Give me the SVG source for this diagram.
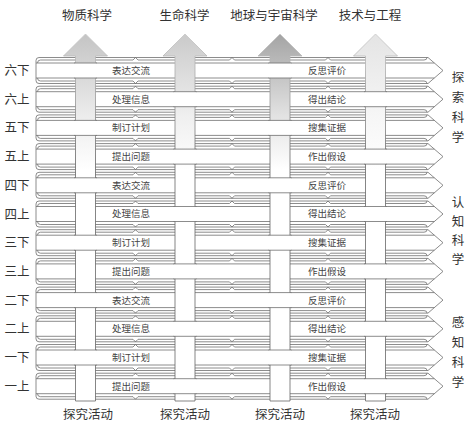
<svg xmlns="http://www.w3.org/2000/svg" xmlns:xlink="http://www.w3.org/1999/xlink" width="469" height="424" viewBox="0 0 469 424">
<style>
.t{font-family:"Noto Sans CJK SC","Noto Sans",sans-serif;fill:#333;text-anchor:middle}
.big{font-size:12.5px}
.lab{font-size:9.5px;fill:#444}
.ln{fill:none;stroke:#6e6e6e;stroke-width:0.8}
.col{stroke:url(#cs);stroke-width:0.8}
</style>
<defs>
<linearGradient id="cs" gradientUnits="userSpaceOnUse" x1="0" y1="34" x2="0" y2="160"><stop offset="0" stop-color="#c8c8c8"/><stop offset="0.5" stop-color="#9a9a9a"/><stop offset="1" stop-color="#666"/></linearGradient>
<linearGradient id="g1" gradientUnits="userSpaceOnUse" x1="0" y1="34" x2="0" y2="170"><stop offset="0" stop-color="#c4c4c4"/><stop offset="0.6" stop-color="#ececec"/><stop offset="1" stop-color="#fff"/></linearGradient>
<linearGradient id="g2" gradientUnits="userSpaceOnUse" x1="0" y1="34" x2="0" y2="170"><stop offset="0" stop-color="#cacaca"/><stop offset="0.6" stop-color="#efefef"/><stop offset="1" stop-color="#fff"/></linearGradient>
<linearGradient id="g3" gradientUnits="userSpaceOnUse" x1="0" y1="34" x2="0" y2="170"><stop offset="0" stop-color="#a4a4a4"/><stop offset="0.6" stop-color="#e2e2e2"/><stop offset="1" stop-color="#fff"/></linearGradient>
<linearGradient id="g4" gradientUnits="userSpaceOnUse" x1="0" y1="34" x2="0" y2="170"><stop offset="0" stop-color="#e4e4e4"/><stop offset="0.6" stop-color="#f6f6f6"/><stop offset="1" stop-color="#fff"/></linearGradient>
<linearGradient id="rg" gradientUnits="userSpaceOnUse" x1="36" y1="0" x2="443" y2="0"><stop offset="0" stop-color="#e8e8e8"/><stop offset="0.15" stop-color="#fff"/><stop offset="0.9" stop-color="#fff"/><stop offset="1" stop-color="#e2e2e2"/></linearGradient>
<g id="ribbon">
<path class="ln" d="M39,-13H428L443,0L428,13H39Q36,13 36,10V-10Q36,-13 39,-13Z"/>
<path class="ln" d="M36,-7.5H434.3M36,7.5H434.3"/>
<path class="ln" d="M37.5,-7.5Q37.5,-10.5 40.5,-10.5H133L135.5,-13L138,-10.5H229.5L232,-13L234.5,-10.5H325.5L328,-13L330.5,-10.5H424Q427,-10.5 427,-13"/>
<path class="ln" d="M37.5,7.5Q37.5,10.5 40.5,10.5H133L135.5,13L138,10.5H229.5L232,13L234.5,10.5H325.5L328,13L330.5,10.5H424Q427,10.5 427,13"/>
</g>
<path id="colshape" class="col" d="M-10,401V56H-22L0,34L22,56H10V401Z"/>
<g id="patch">
<rect x="-11" y="-7.4" width="22" height="14.8" fill="#fff"/>
<path class="ln" d="M-11.5,-7.5H11.5M-11.5,7.5H11.5"/>
</g>
</defs>
<rect width="469" height="424" fill="#fff"/>

<g id="top-labels" class="t big">
<text x="87" y="19.5">物质科学</text>
<text x="184.5" y="19.5">生命科学</text>
<text x="274" y="19.5">地球与宇宙科学</text>
<text x="370" y="19.5">技术与工程</text>
</g>

<g id="rows">
<g id="row-6b" transform="translate(0,70.5)"><use href="#ribbon" fill="url(#rg)"/><text class="t big" x="17" y="4.5">六下</text><text class="t lab" x="131" y="3.4">表达交流</text><text class="t lab" x="327" y="3.4">反思评价</text></g>
<g id="row-6a" transform="translate(0,99.2)"><use href="#ribbon" fill="url(#rg)"/><text class="t big" x="17" y="4.5">六上</text><text class="t lab" x="131" y="3.4">处理信息</text><text class="t lab" x="327" y="3.4">得出结论</text></g>
<g id="row-5b" transform="translate(0,127.9)"><use href="#ribbon" fill="url(#rg)"/><text class="t big" x="17" y="4.5">五下</text><text class="t lab" x="131" y="3.4">制订计划</text><text class="t lab" x="327" y="3.4">搜集证据</text></g>
<g id="row-5a" transform="translate(0,156.6)"><use href="#ribbon" fill="url(#rg)"/><text class="t big" x="17" y="4.5">五上</text><text class="t lab" x="131" y="3.4">提出问题</text><text class="t lab" x="327" y="3.4">作出假设</text></g>
<g id="row-4b" transform="translate(0,185.3)"><use href="#ribbon" fill="#fff"/><text class="t big" x="17" y="4.5">四下</text><text class="t lab" x="131" y="3.4">表达交流</text><text class="t lab" x="327" y="3.4">反思评价</text></g>
<g id="row-4a" transform="translate(0,214)"><use href="#ribbon" fill="#fff"/><text class="t big" x="17" y="4.5">四上</text><text class="t lab" x="131" y="3.4">处理信息</text><text class="t lab" x="327" y="3.4">得出结论</text></g>
<g id="row-3b" transform="translate(0,242.7)"><use href="#ribbon" fill="#fff"/><text class="t big" x="17" y="4.5">三下</text><text class="t lab" x="131" y="3.4">制订计划</text><text class="t lab" x="327" y="3.4">搜集证据</text></g>
<g id="row-3a" transform="translate(0,271.4)"><use href="#ribbon" fill="#fff"/><text class="t big" x="17" y="4.5">三上</text><text class="t lab" x="131" y="3.4">提出问题</text><text class="t lab" x="327" y="3.4">作出假设</text></g>
<g id="row-2b" transform="translate(0,300.1)"><use href="#ribbon" fill="#fff"/><text class="t big" x="17" y="4.5">二下</text><text class="t lab" x="131" y="3.4">表达交流</text><text class="t lab" x="327" y="3.4">反思评价</text></g>
<g id="row-2a" transform="translate(0,328.8)"><use href="#ribbon" fill="#fff"/><text class="t big" x="17" y="4.5">二上</text><text class="t lab" x="131" y="3.4">处理信息</text><text class="t lab" x="327" y="3.4">得出结论</text></g>
<g id="row-1b" transform="translate(0,357.5)"><use href="#ribbon" fill="#fff"/><text class="t big" x="17" y="4.5">一下</text><text class="t lab" x="131" y="3.4">制订计划</text><text class="t lab" x="327" y="3.4">搜集证据</text></g>
<g id="row-1a" transform="translate(0,386.2)"><use href="#ribbon" fill="#fff"/><text class="t big" x="17" y="4.5">一上</text><text class="t lab" x="131" y="3.4">提出问题</text><text class="t lab" x="327" y="3.4">作出假设</text></g>
</g>

<g id="columns">
<g id="col-physical"><use href="#colshape" fill="url(#g1)" transform="translate(85.5,0)"/></g>
<g id="col-life"><use href="#colshape" fill="url(#g2)" transform="translate(185,0)"/></g>
<g id="col-earth"><use href="#colshape" fill="url(#g3)" transform="translate(280,0)"/></g>
<g id="col-tech"><use href="#colshape" fill="url(#g4)" transform="translate(375.5,0)"/></g>
</g>

<g id="weave">
<use href="#patch" x="85.5" y="70.5"/><use href="#patch" x="280" y="70.5"/>
<use href="#patch" x="185" y="99.2"/><use href="#patch" x="375.5" y="99.2"/>
<use href="#patch" x="85.5" y="127.9"/><use href="#patch" x="280" y="127.9"/>
<use href="#patch" x="185" y="156.6"/><use href="#patch" x="375.5" y="156.6"/>
<use href="#patch" x="85.5" y="185.3"/><use href="#patch" x="280" y="185.3"/>
<use href="#patch" x="185" y="214"/><use href="#patch" x="375.5" y="214"/>
<use href="#patch" x="85.5" y="242.7"/><use href="#patch" x="280" y="242.7"/>
<use href="#patch" x="185" y="271.4"/><use href="#patch" x="375.5" y="271.4"/>
<use href="#patch" x="85.5" y="300.1"/><use href="#patch" x="280" y="300.1"/>
<use href="#patch" x="185" y="328.8"/><use href="#patch" x="375.5" y="328.8"/>
<use href="#patch" x="85.5" y="357.5"/><use href="#patch" x="280" y="357.5"/>
<use href="#patch" x="185" y="386.2"/><use href="#patch" x="375.5" y="386.2"/>
</g>

<g id="group-explore" class="t big">
<text x="458" y="81.5">探</text><text x="458" y="101.5">索</text><text x="458" y="121.5">科</text><text x="458" y="141.5">学</text>
</g>
<g id="group-cognitive" class="t big">
<text x="458" y="206.5">认</text><text x="458" y="225.5">知</text><text x="458" y="244.5">科</text><text x="458" y="263.5">学</text>
</g>
<g id="group-perceive" class="t big">
<text x="458" y="326.5">感</text><text x="458" y="346.5">知</text><text x="458" y="366.5">科</text><text x="458" y="386.5">学</text>
</g>

<g id="bottom-labels" class="t big">
<text x="88" y="418.5">探究活动</text>
<text x="185" y="418.5">探究活动</text>
<text x="280" y="418.5">探究活动</text>
<text x="375" y="418.5">探究活动</text>
</g>
</svg>
